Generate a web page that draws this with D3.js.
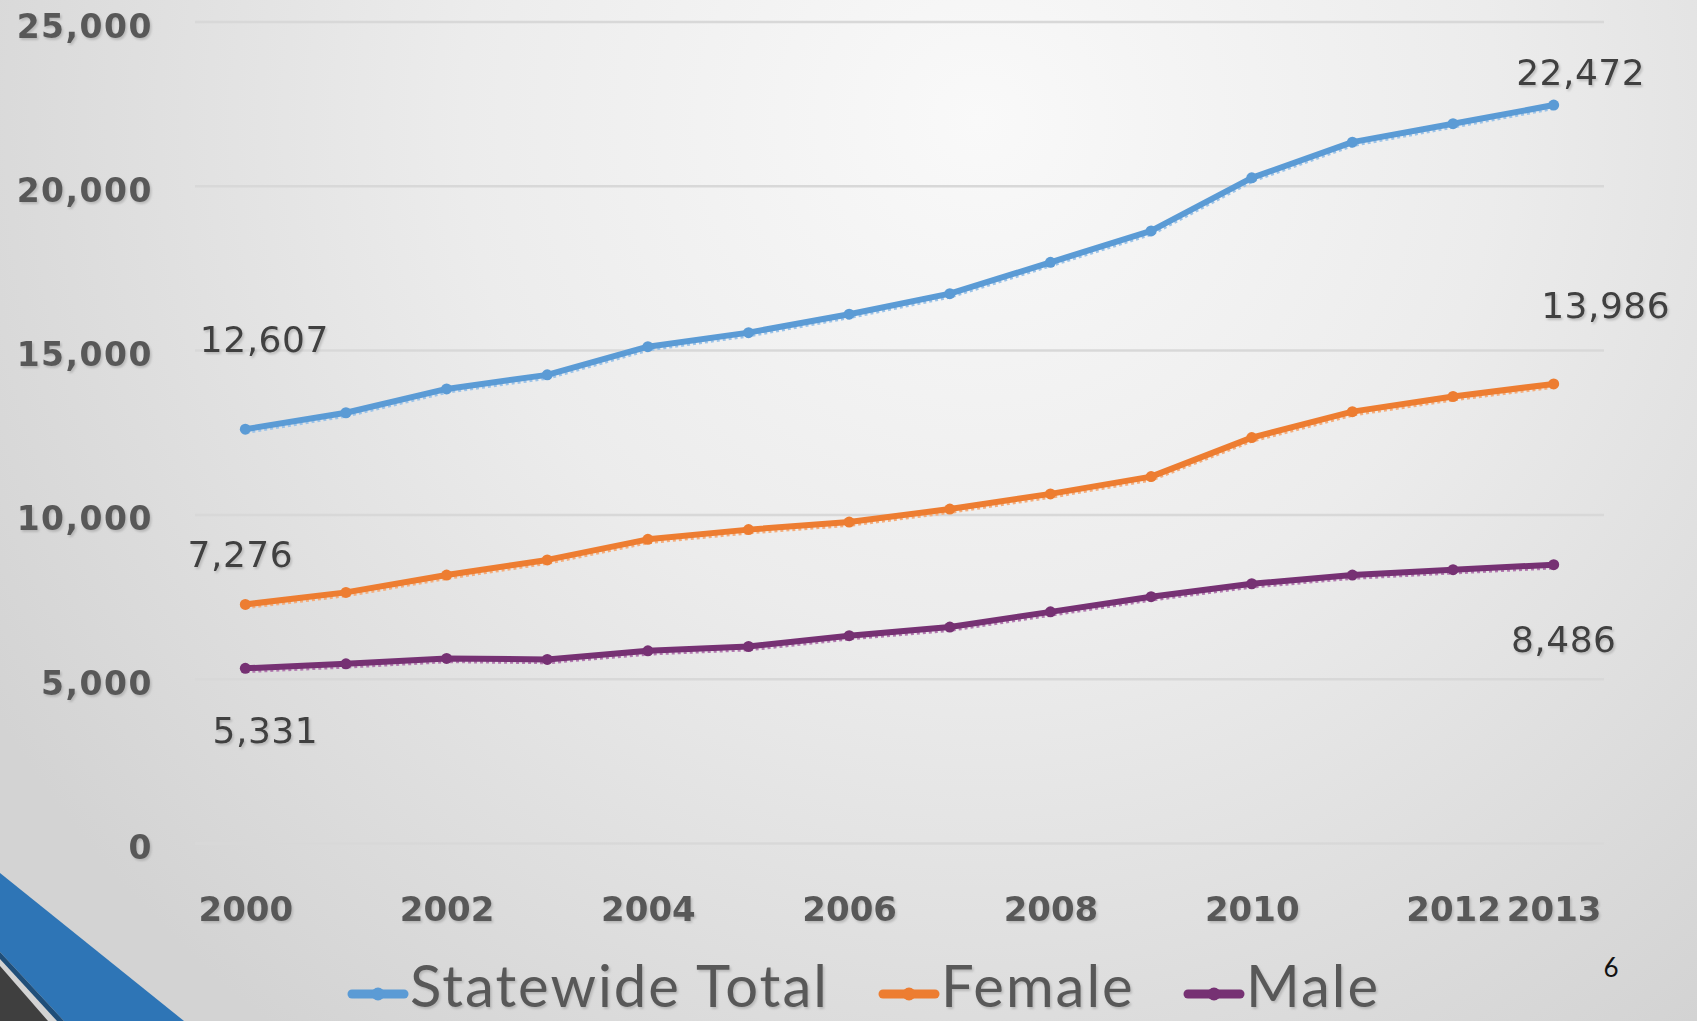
<!DOCTYPE html>
<html>
<head>
<meta charset="utf-8">
<script src="https://cdn.jsdelivr.net/npm/d3@7/dist/d3.min.js"></script>
<style>
  html, body { margin: 0; padding: 0; overflow: hidden; }
  svg { display: block; }
</style>
</head>
<body>
<script>
// ---- Data ----
const years = [2000, 2001, 2002, 2003, 2004, 2005, 2006, 2007, 2008, 2009, 2010, 2011, 2012, 2013];
const statewideTotal = [12607, 13109, 13834, 14262, 15119, 15547, 16107, 16733, 17688, 18643, 20257, 21344, 21904, 22472];
const female = [7276, 7642, 8169, 8630, 9256, 9552, 9783, 10178, 10639, 11166, 12352, 13142, 13603, 13986];
const male = [5331, 5468, 5632, 5600, 5863, 5995, 6324, 6588, 7049, 7510, 7905, 8169, 8333, 8486];
const seriesNames = ["Statewide Total", "Female", "Male"];
const yTicks = [0, 5000, 10000, 15000, 20000, 25000];
const xTickLabels = [2000, 2002, 2004, 2006, 2008, 2010, 2012, 2013];
const pageNumber = "6";

// ---- Layout / style ----
const W = 1697, H = 1021;
const colors = ["#5B9BD5", "#ED7D31", "#763173"];
const shadowColors = ["#9cc3e8", "#f4ad7c", "#b27ab0"];

const svg = d3.select("body").append("svg").attr("width", W).attr("height", H);
const defs = svg.append("defs");

const bg = defs.append("radialGradient").attr("id", "bg")
  .attr("gradientUnits", "userSpaceOnUse")
  .attr("cx", 980).attr("cy", 120).attr("r", 1150);
bg.append("stop").attr("offset", 0).attr("stop-color", "#f9f9f9");
bg.append("stop").attr("offset", 0.45).attr("stop-color", "#ececec");
bg.append("stop").attr("offset", 1).attr("stop-color", "#d3d3d3");

const f = defs.append("filter").attr("id", "tshadow").attr("x", "-10%").attr("y", "-20%").attr("width", "130%").attr("height", "150%");
f.append("feDropShadow").attr("dx", 1.5).attr("dy", 2).attr("stdDeviation", 0.8)
  .attr("flood-color", "#9a9a9a").attr("flood-opacity", 0.55);

svg.append("rect").attr("width", W).attr("height", H).attr("fill", "url(#bg)");

// bottom-left decoration
svg.append("polygon").attr("points", "0,873 184,1021 64,1021 0,952").attr("fill", "#2E75B6");
svg.append("polygon").attr("points", "0,952 64,1021 57,1021 0,959").attr("fill", "#1F4E79");
svg.append("polygon").attr("points", "0,966 0,1021 48,1021").attr("fill", "#3f3f3f");

// ---- Scales ----
const x = d3.scalePoint().domain(years).range([195, 1604]).padding(0.5);
const y = d3.scaleLinear().domain([0, 25000]).range([843.5, 22]);

// gridlines
svg.append("g").selectAll("line").data(yTicks).join("line")
  .attr("x1", 195).attr("x2", 1604)
  .attr("y1", d => y(d)).attr("y2", d => y(d))
  .attr("stroke", "#d8d8d8").attr("stroke-width", 2.5);

// y axis
const yAxis = d3.axisLeft(y).tickValues(yTicks).tickFormat(d3.format(",")).tickSize(0).tickPadding(0);
const yg = svg.append("g").attr("transform", "translate(153,0)").call(yAxis);
yg.select(".domain").remove();
yg.selectAll("text")
  .attr("font-family", "'DejaVu Sans', sans-serif").attr("font-weight", "bold")
  .attr("font-size", 33).attr("fill", "#595959").attr("letter-spacing", 1.5)
  .attr("dy", 15).attr("filter", "url(#tshadow)");

// x axis
const xAxis = d3.axisBottom(x).tickValues(xTickLabels).tickSize(0).tickPadding(0).tickFormat(d => String(d));
const xg = svg.append("g").attr("transform", "translate(0,921)").call(xAxis);
xg.select(".domain").remove();
xg.selectAll("text")
  .attr("font-family", "'DejaVu Sans', sans-serif").attr("font-weight", "bold")
  .attr("font-size", 34).attr("fill", "#595959")
  .attr("dy", 0).attr("y", 0).attr("filter", "url(#tshadow)");

// ---- Lines ----
const series = [statewideTotal, female, male];
const line = d3.line().x((d, i) => x(years[i])).y(d => y(d));

series.forEach((vals, s) => {
  const g = svg.append("g");
  g.append("path").datum(vals).attr("d", line)
    .attr("transform", "translate(1,3)")
    .attr("fill", "none").attr("stroke", shadowColors[s]).attr("stroke-width", 3.5)
    .attr("stroke-dasharray", "3,3");
  g.append("path").datum(vals).attr("d", line)
    .attr("fill", "none").attr("stroke", colors[s]).attr("stroke-width", 6)
    .attr("stroke-linejoin", "round");
  g.selectAll("circle").data(vals).join("circle")
    .attr("cx", (d, i) => x(years[i])).attr("cy", d => y(d)).attr("r", 5.5)
    .attr("fill", colors[s]);
});

// ---- Data labels (first and last points) ----
const labelOffsets = [
  [[19, -77], [27, -20]],
  [[-5, -37], [52, -66]],
  [[20, 75], [10, 87]]
];
const fmt = d3.format(",");
series.forEach((vals, s) => {
  [0, vals.length - 1].forEach((idx, k) => {
    svg.append("text")
      .attr("x", x(years[idx]) + labelOffsets[s][k][0])
      .attr("y", y(vals[idx]) + labelOffsets[s][k][1])
      .attr("text-anchor", "middle")
      .attr("font-family", "'DejaVu Sans', sans-serif")
      .attr("font-size", 36).attr("fill", "#404040").attr("letter-spacing", 0.5)
      .attr("filter", "url(#tshadow)")
      .text(fmt(vals[idx]));
  });
});

// ---- Legend ----
const legendX = [348, 879, 1184];
const lg = svg.append("g");
seriesNames.forEach((name, s) => {
  const lx = legendX[s];
  lg.append("line").attr("x1", lx + 4).attr("x2", lx + 56).attr("y1", 994).attr("y2", 994)
    .attr("stroke", colors[s]).attr("stroke-width", 9).attr("stroke-linecap", "round");
  lg.append("circle").attr("cx", lx + 30).attr("cy", 994).attr("r", 6.5).attr("fill", colors[s]);
  lg.append("text").attr("x", lx + 62).attr("y", 1007)
    .attr("font-family", "Lato, sans-serif").attr("font-size", 58).attr("fill", "#595959")
    .attr("letter-spacing", 2)
    .attr("filter", "url(#tshadow)")
    .text(name);
});

// page number
svg.append("text").attr("x", 1611).attr("y", 977).attr("text-anchor", "middle")
  .attr("font-family", "Lato, sans-serif").attr("font-size", 26).attr("fill", "#111")
  .text(pageNumber);
</script>
</body>
</html>
